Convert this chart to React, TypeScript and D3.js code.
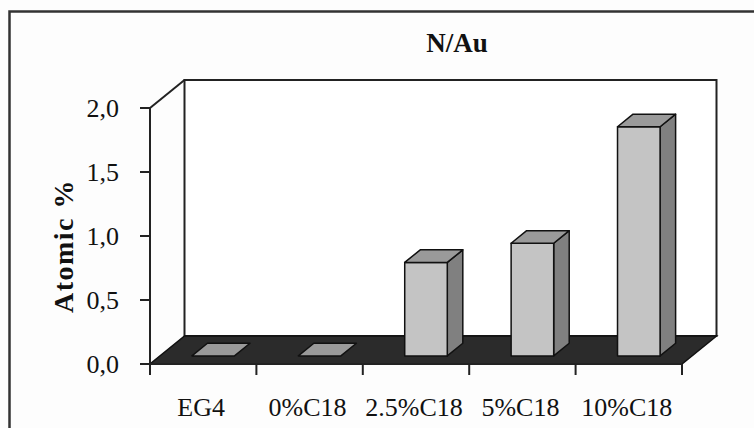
import React from "react";
import * as d3 from "d3";

// Chart data
const categories: string[] = ["EG4", "0%C18", "2.5%C18", "5%C18", "10%C18"];
const values: number[] = [0, 0, 0.73, 0.88, 1.79];
const yTicks: number[] = [0, 0.5, 1.0, 1.5, 2.0];
const chartTitle = "N/Au";
const yAxisTitle = "Atomic %";

const W = 754;
const H = 428;

// Front plane of the 3D box
const x = d3.scaleBand<string>().domain(categories).range([150, 682]).paddingInner(0).paddingOuter(0);
const y = d3.scaleLinear().domain([0, 2]).range([364, 108]);

// Full depth vector of the oblique projection
const DX = 34.5;
const DY = -28;
// Bars occupy this depth slice
const D0 = 0.29;
const D1 = 0.74;
// Bar front face as a fraction of the band
const B0 = 0.3;
const B1 = 0.7;

const fmt = (v: number) => d3.format(".1f")(v).replace(".", ",");
const serif = "'Liberation Serif', 'Times New Roman', serif";

type Pt = [number, number];
const poly = (pts: Pt[]) => "M" + pts.map((p) => p.join(",")).join("L") + "Z";
const proj = (px: number, py: number, d: number): Pt => [px + DX * d, py + DY * d];

export default function App() {
  const x0 = x.range()[0];
  const x1 = x.range()[1];
  const yBase = y(0);
  const yTop = y(2);

  const floor = poly([proj(x0, yBase, 0), proj(x1, yBase, 0), proj(x1, yBase, 1), proj(x0, yBase, 1)]);
  const backWall = poly([proj(x0, yBase, 1), proj(x0, yTop, 1), proj(x1, yTop, 1), proj(x1, yBase, 1)]);

  const bw = x.bandwidth();

  return (
    <svg
      width={W}
      height={H}
      viewBox={`0 0 ${W} ${H}`}
      style={{ position: "absolute", left: 0, top: 0, background: "#fdfdfd" }}
    >
      <rect x={0} y={0} width={W} height={H} fill="#fdfdfd" />
      {/* outer chart border */}
      <rect x={9.5} y={11.5} width={W + 20} height={H + 20} fill="none" stroke="#333" strokeWidth={2.5} />

      {/* title */}
      <text x={457} y={52} textAnchor="middle" fontFamily={serif} fontWeight="bold" fontSize={27} fill="#111">
        {chartTitle}
      </text>

      {/* walls */}
      <path d={backWall} fill="#fff" stroke="#222" strokeWidth={2} />
      <line
        x1={x0}
        y1={yTop}
        x2={proj(x0, yTop, 1)[0]}
        y2={proj(x0, yTop, 1)[1]}
        stroke="#222"
        strokeWidth={2}
      />

      {/* floor */}
      <path d={floor} fill="#2b2b2b" stroke="#111" strokeWidth={1.5} />

      {/* bars */}
      {categories.map((c, i) => {
        const v = values[i];
        const bl = (x(c) as number) + bw * B0;
        const br = (x(c) as number) + bw * B1;
        const yt = y(v);
        const front = poly([proj(bl, yBase, D0), proj(br, yBase, D0), proj(br, yt, D0), proj(bl, yt, D0)]);
        const side = poly([proj(br, yBase, D0), proj(br, yBase, D1), proj(br, yt, D1), proj(br, yt, D0)]);
        const top = poly([proj(bl, yt, D0), proj(br, yt, D0), proj(br, yt, D1), proj(bl, yt, D1)]);
        return (
          <g key={c} stroke="#111" strokeWidth={1.5} strokeLinejoin="round">
            {v > 0 && <path d={side} fill="#808080" />}
            {v > 0 && <path d={front} fill="#c4c4c4" />}
            <path d={top} fill="#9a9a9a" />
          </g>
        );
      })}

      {/* front value axis */}
      <line x1={x0} y1={yTop} x2={x0} y2={yBase} stroke="#222" strokeWidth={2} />
      {yTicks.map((t) => (
        <g key={t}>
          <line x1={x0 - 10} x2={x0} y1={y(t)} y2={y(t)} stroke="#222" strokeWidth={2} />
          <text
            x={x0 - 31}
            y={y(t)}
            dy="0.34em"
            textAnchor="end"
            fontFamily={serif}
            fontSize={26}
            fill="#111"
          >
            {fmt(t)}
          </text>
        </g>
      ))}

      {/* front category axis */}
      <line x1={x0} y1={yBase} x2={x1} y2={yBase} stroke="#222" strokeWidth={2} />
      {[...categories.map((c) => x(c) as number), x1].map((tx, i) => (
        <line key={i} x1={tx} x2={tx} y1={yBase} y2={yBase + 11} stroke="#222" strokeWidth={2} />
      ))}
      {categories.map((c) => (
        <text
          key={c}
          x={(x(c) as number) + bw / 2 - 2}
          y={416}
          textAnchor="middle"
          fontFamily={serif}
          fontSize={26}
          fill="#111"
        >
          {c}
        </text>
      ))}

      {/* value axis title */}
      <text
        transform={`translate(73,246) rotate(-90)`}
        textAnchor="middle"
        fontFamily={serif}
        fontWeight="bold"
        fontSize={28}
        letterSpacing={1.5}
        fill="#111"
      >
        {yAxisTitle}
      </text>
    </svg>
  );
}
